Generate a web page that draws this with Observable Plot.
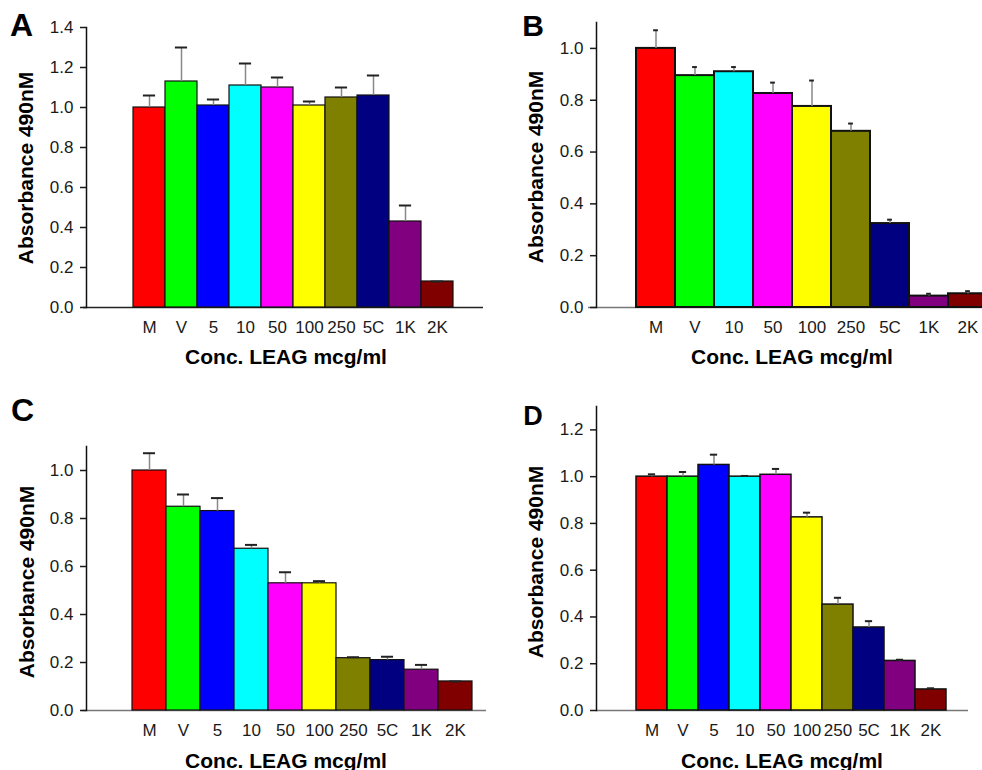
<!DOCTYPE html>
<html><head><meta charset="utf-8">
<script src="https://cdn.jsdelivr.net/npm/d3@7"></script>
<script src="https://cdn.jsdelivr.net/npm/@observablehq/plot@0.6"></script>
<style>
html,body{margin:0;padding:0;background:#fff;overflow:hidden}
#fig{position:relative;width:982px;height:770px;font-family:"Liberation Sans",Arial,sans-serif;color:#111}
.panel{position:absolute;width:491px;height:385px;overflow:hidden}
.lbl{position:absolute;transform:translate(-50%,-50%);font-weight:bold;white-space:nowrap;line-height:1;color:#000}
.ytitle{transform:translate(-50%,-50%) rotate(-90deg)}
</style></head><body><div id="fig"></div>
<script>
// ---- data ----
const allCats = ["M","V","5","10","50","100","250","5C","1K","2K"];
const palette = ["#ff0000","#00ff00","#0000ff","#00ffff","#ff00ff","#ffff00","#808000","#000080","#800080","#800000"];

const catsA = ["M","V","5","10","50","100","250","5C","1K","2K"];
const meanA = [1.00,1.13,1.01,1.11,1.10,1.01,1.05,1.06,0.43,0.13];
const sdA   = [0.06,0.17,0.03,0.11,0.05,0.02,0.05,0.10,0.08,0.00];
const ticksA = [0,0.2,0.4,0.6,0.8,1.0,1.2,1.4];

const catsB = ["M","V","10","50","100","250","5C","1K","2K"];
const meanB = [1.00,0.895,0.91,0.826,0.776,0.68,0.324,0.044,0.053];
const sdB   = [0.07,0.033,0.018,0.042,0.10,0.03,0.015,0.009,0.010];
const ticksB = [0,0.2,0.4,0.6,0.8,1.0];

const catsC = ["M","V","5","10","50","100","250","5C","1K","2K"];
const meanC = [1.00,0.849,0.831,0.674,0.53,0.53,0.218,0.21,0.17,0.121];
const sdC   = [0.072,0.051,0.054,0.016,0.046,0.009,0.004,0.014,0.02,0.0];
const ticksC = [0,0.2,0.4,0.6,0.8,1.0];

const catsD = ["M","V","5","10","50","100","250","5C","1K","2K"];
const meanD = [1.00,1.00,1.05,1.00,1.008,0.826,0.453,0.355,0.212,0.09];
const sdD   = [0.01,0.02,0.044,0.003,0.025,0.02,0.029,0.027,0.005,0.005];
const ticksD = [0,0.2,0.4,0.6,0.8,1.0,1.2];

const xTitle = "Conc. LEAG mcg/ml";
const yTitle = "Absorbance 490nM";

// ---- layout ----
const panels = [
  {letter:"A", cats:catsA, mean:meanA, sd:sdA, ticks:ticksA, yDomain:[0,1.4], left:0, top:0,
   m:[27,8,78,86], xRange:[129,457], cap:13, barW:1.2, rule:"#222", ruleIn:-3,
   letterPos:[21.5,25,32], yPos:[25,168], xPos:[286,355.5]},
  {letter:"B", cats:catsB, mean:meanB, sd:sdB, ticks:ticksB, yDomain:[0,1.1], left:491, top:0,
   m:[22,0,78,105], xRange:[144,497], cap:5, barW:2, rule:"#777", ruleIn:-8,
   letterPos:[533,26,30], yPos:[535,167], xPos:[792,355.5]},
  {letter:"C", cats:catsC, mean:meanC, sd:sdC, ticks:ticksC, yDomain:[0,1.1], left:0, top:385,
   m:[61,5,60,86], xRange:[127,476], cap:13, barW:1.2, rule:"#777", ruleIn:-4,
   letterPos:[22.5,410,32], yPos:[26,582], xPos:[286,759.5]},
  {letter:"D", cats:catsD, mean:meanD, sd:sdD, ticks:ticksD, yDomain:[0,1.3], left:491, top:385,
   m:[21,14,60,105], xRange:[141,459], cap:8, barW:1.5, rule:"#777", ruleIn:0,
   letterPos:[533,416,27], yPos:[535,562], xPos:[782,759.5]}
];

const fig = document.getElementById("fig");
function addLabel(text, x, y, size, cls) {
  const d = document.createElement("div");
  d.className = "lbl" + (cls ? " " + cls : "");
  d.textContent = text;
  d.style.left = x + "px"; d.style.top = y + "px"; d.style.fontSize = size + "px";
  fig.appendChild(d);
}

for (const p of panels) {
  const rows = p.cats.map((c, i) => ({cat: c, mean: p.mean[i], top: p.mean[i] + p.sd[i]}));
  const step = (p.xRange[1] - p.xRange[0]) / p.cats.length;
  const inset = Math.max(0, (step - p.cap) / 2);
  const chart = Plot.plot({
    width: 491, height: 385,
    marginTop: p.m[0], marginRight: p.m[1], marginBottom: p.m[2], marginLeft: p.m[3],
    style: {fontFamily: '"Liberation Sans", Arial, sans-serif', fontSize: "17px", color: "#1a1a1a", overflow: "hidden", background: "transparent"},
    x: {domain: p.cats, range: p.xRange, padding: 0},
    y: {domain: p.yDomain},
    color: {domain: allCats, range: palette},
    marks: [
      Plot.ruleY([0], {stroke: p.rule, strokeWidth: 1.5, insetLeft: p.ruleIn}),
      Plot.barY(rows, {x: "cat", y: "mean", fill: "cat", stroke: "#111", strokeWidth: p.barW}),
      Plot.ruleX(rows, {x: "cat", y1: "mean", y2: "top", stroke: "#888", strokeWidth: 1.5}),
      Plot.tickY(rows, {x: "cat", y: "top", stroke: "#222", strokeWidth: 2, insetLeft: inset, insetRight: inset}),
      Plot.frame({anchor: "left", stroke: "#111", strokeWidth: 1.5}),
      Plot.axisY({ticks: p.ticks, tickFormat: d3.format(".1f"), tickSize: 6, tickPadding: 7, label: null, strokeWidth: 1.5, fontSize: 17}),
      Plot.axisX({tickSize: 0, tickPadding: 13, label: null, fontSize: 17})
    ]
  });
  const holder = document.createElement("div");
  holder.className = "panel";
  holder.style.left = p.left + "px"; holder.style.top = p.top + "px";
  holder.appendChild(chart);
  fig.appendChild(holder);
  addLabel(p.letter, p.letterPos[0], p.letterPos[1], p.letterPos[2]);
  addLabel(yTitle, p.yPos[0], p.yPos[1], 21, "ytitle");
  addLabel(xTitle, p.xPos[0], p.xPos[1], 21);
}
</script></body></html>
